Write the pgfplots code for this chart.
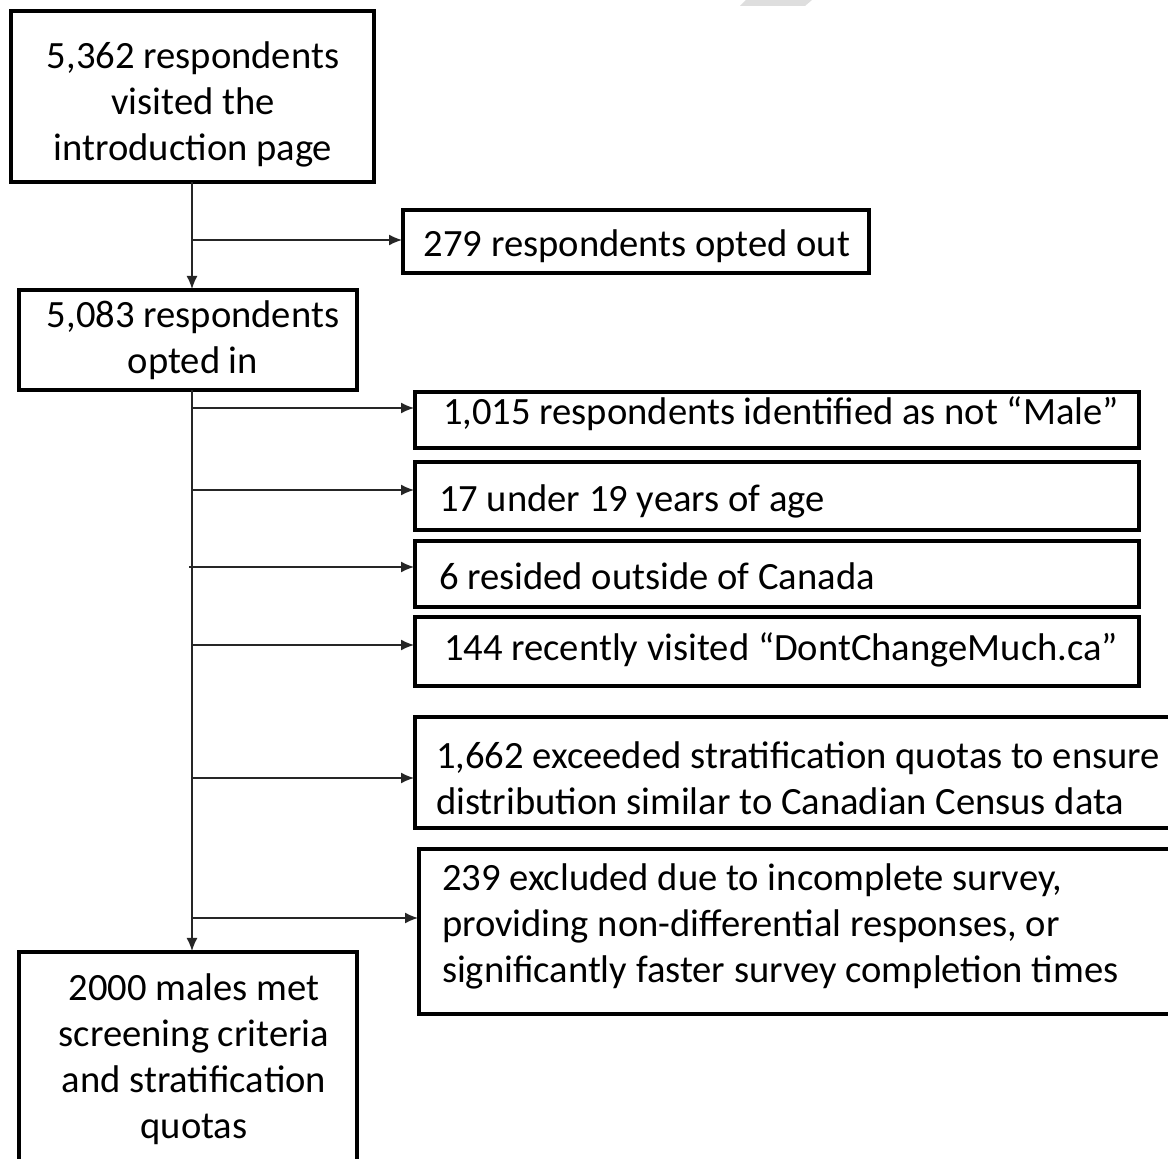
\documentclass[border=0pt]{standalone}
\usepackage{pgfplots}
\pgfplotsset{compat=1.18}
\usepackage{fontspec}
\setmainfont{Carlito}
\usetikzlibrary{arrows.meta}
\tikzset{t/.style={font=\fontsize{19.3}{23}\selectfont, inner sep=0pt, outer sep=0pt}}
\begin{document}
\begin{tikzpicture}
\begin{axis}[
  xmin=0, xmax=1168, ymin=0, ymax=1159, y dir=reverse,
  width=584pt, height=579.5pt, scale only axis, hide axis, clip=false,
]
% watermark
\addplot[fill=black!13, draw=none] coordinates {(746,0) (812,0) (805,6) (740,6)} -- cycle;
% boxes
\pgfplotsset{box/.style={draw=black, line width=2pt, line join=miter, no marks}}
\addplot[box] coordinates {(11,11) (374,11) (374,182) (11,182)} -- cycle;
\addplot[box] coordinates {(403,210) (869,210) (869,273) (403,273)} -- cycle;
\addplot[box] coordinates {(19,290) (357,290) (357,390) (19,390)} -- cycle;
\addplot[box] coordinates {(415,392) (1139,392) (1139,448) (415,448)} -- cycle;
\addplot[box] coordinates {(415,462) (1139,462) (1139,530) (415,530)} -- cycle;
\addplot[box] coordinates {(415,541) (1139,541) (1139,607) (415,607)} -- cycle;
\addplot[box] coordinates {(415,617) (1139,617) (1139,686) (415,686)} -- cycle;
\addplot[box] coordinates {(1170,717) (415,717) (415,828) (1170,828)};
\addplot[box] coordinates {(1170,849) (419,849) (419,1014) (1170,1014)};
\addplot[box] coordinates {(19,1161) (19,952) (357,952) (357,1161)};
% connectors
\pgfplotsset{arr/.style={draw=black!85, line width=0.75pt, no marks, -{Latex[length=6.5pt,width=5.5pt]}}}
\addplot[arr] coordinates {(192,182) (192,289)};
\addplot[arr] coordinates {(192,390) (192,951)};
\addplot[arr] coordinates {(192,240) (402,240)};
\addplot[arr] coordinates {(192,408) (414,408)};
\addplot[arr] coordinates {(192,490) (414,490)};
\addplot[arr] coordinates {(189,567) (414,567)};
\addplot[arr] coordinates {(192,645) (414,645)};
\addplot[arr] coordinates {(192,778) (414,778)};
\addplot[arr] coordinates {(192,918) (418,918)};
% texts
\node[t, align=center] at (axis cs:193,104) {5,362 respondents\\visited the\\introduction page};
\node[t, align=center] at (axis cs:637,246) {279 respondents opted out};
\node[t, align=center] at (axis cs:193,340) {5,083 respondents\\opted in};
\node[t, anchor=west] at (axis cs:443,414) {1,015 respondents identified as not “Male”};
\node[t, anchor=west] at (axis cs:439,501) {17 under 19 years of age};
\node[t, anchor=west] at (axis cs:439,576) {6 resided outside of Canada};
\node[t, anchor=west] at (axis cs:444,650) {144 recently visited “DontChangeMuch.ca”};
\node[t, anchor=west, align=left] at (axis cs:436,778) {1,662 exceeded stratification quotas to ensure\\distribution similar to Canadian Census data};
\node[t, anchor=west, align=left] at (axis cs:442,926) {239 excluded due to incomplete survey,\\providing non-differential responses, or\\significantly faster survey completion times};
\node[t, align=center] at (axis cs:194,1059) {2000 males met\\screening criteria\\and stratification\\quotas};
\end{axis}
\pgfresetboundingbox
\path (current axis.south west) rectangle (current axis.north east);
\end{tikzpicture}
\end{document}
